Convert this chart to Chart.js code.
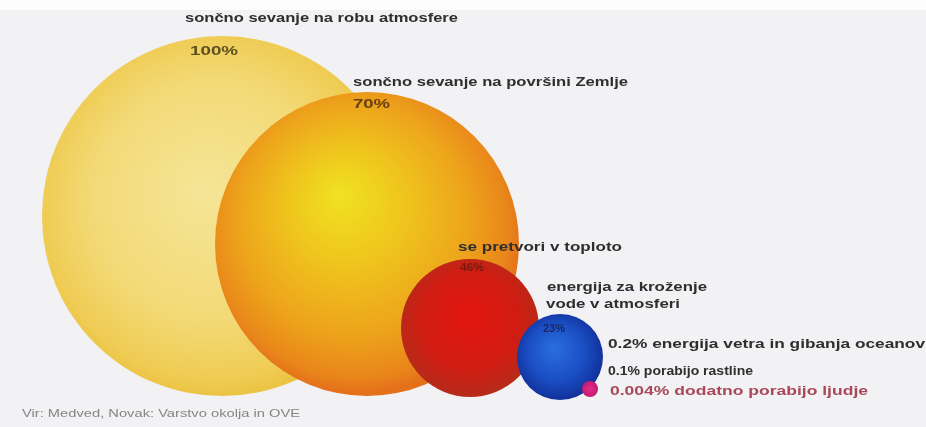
<!DOCTYPE html>
<html>
<head>
<meta charset="utf-8">
<script src="https://cdn.jsdelivr.net/npm/chart.js@4.4.1/dist/chart.umd.min.js"></script>
<style>
  html, body { margin: 0; padding: 0; background: #f2f1f3; }
  #wrap { position: relative; width: 926px; height: 427px; background: #f2f1f3; }
  #topband { position: absolute; left: 0; top: 0; width: 926px; height: 10px; background: #fdfdfd; }
  canvas { position: absolute; left: 0; top: 0; }
</style>
</head>
<body>
<div id="wrap">
  <div id="topband"></div>
  <canvas id="c" width="926" height="427"></canvas>
</div>
<script>
// Share of incoming solar energy at each stage (percent)
const stages = [
  'sončno sevanje na robu atmosfere',
  'sončno sevanje na površini Zemlje',
  'se pretvori v toploto',
  'energija za kroženje vode v atmosferi',
  'energija vetra in gibanja oceanov',
  'porabijo rastline',
  'dodatno porabijo ljudje'
];
const shares = [100, 70, 46, 23, 0.2, 0.1, 0.004];
const shareLabels = ['100%', '70%', '46%', '23%', '0.2%', '0.1%', '0.004%'];
const sourceNote = 'Vir: Medved, Novak: Varstvo okolja in OVE';

// Which stages get a drawn sphere
const bubbleStages = [0, 1, 2, 3, 6];

// Sphere placement on the layout grid (1 unit = 1 px of the drawing area)
const sphereLayout = [
  { cx: 222, cy: 216, r: 180, hx: -0.10, hy: -0.15, stops: [[0, '#f5e596'], [0.6, '#f3da78'], [0.9, '#efcb52'], [1, '#eac03c']] },
  { cx: 367, cy: 244, r: 152, hx: -0.18, hy: -0.33, stops: [[0, '#f0e221'], [0.35, '#efc51d'], [0.7, '#eda41b'], [0.92, '#e9861a'], [1, '#e4701a']] },
  { cx: 470, cy: 328, r: 69,  hx: 0.0,  hy: -0.2,  stops: [[0, '#e21610'], [0.65, '#d01c12'], [1, '#b42c1a']] },
  { cx: 560, cy: 357, r: 43,  hx: -0.15, hy: -0.2, stops: [[0, '#2a6ee0'], [0.6, '#1b4fc4'], [1, '#10309a']] },
  { cx: 590, cy: 389, r: 8,   hx: 0,    hy: 0,     stops: [[0, '#e2308a'], [1, '#c01870']] }
];

const points = bubbleStages.map((s, i) => ({
  x: sphereLayout[i].cx,
  y: sphereLayout[i].cy,
  r: sphereLayout[i].r,
  share: shares[s]
}));

function sphereFill(ctx) {
  const i = ctx.dataIndex;
  if (ctx.type !== 'data' || i === undefined || !sphereLayout[i]) return '#cccccc';
  const L = sphereLayout[i];
  const chart = ctx.chart;
  const sx = chart.scales && chart.scales.x, sy = chart.scales && chart.scales.y;
  const px = sx ? sx.getPixelForValue(L.cx) : NaN;
  const py = sy ? sy.getPixelForValue(L.cy) : NaN;
  if (!isFinite(px) || !isFinite(py)) return L.stops[1][1];
  const r = L.r;
  // light source sits up and to the left of each sphere
  const g = chart.ctx.createRadialGradient(px + L.hx * r, py + L.hy * r, 0, px + L.hx * r * 0.3, py + L.hy * r * 0.3, r * 1.08);
  L.stops.forEach(([o, c]) => g.addColorStop(o, c));
  return g;
}

// Text annotations drawn on top of the spheres
const textItems = [
  { t: stages[0], x: 185, y: 18, w: 273, color: '#2e2e2e', size: 13, bold: true },
  { t: shareLabels[0], x: 190, y: 52, w: 48, color: '#5e5020', size: 12, bold: true },
  { t: stages[1], x: 353, y: 82, w: 275, color: '#2e2e2e', size: 13, bold: true },
  { t: shareLabels[1], x: 353, y: 105, w: 37, color: '#6a4010', size: 12, bold: true },
  { t: stages[2], x: 458, y: 247, w: 164, color: '#2e2e2e', size: 13, bold: true },
  { t: shareLabels[2], x: 460, y: 268, w: 24, color: '#7c1a12', size: 10, bold: true },
  { t: 'energija za kroženje', x: 547, y: 287, w: 160, color: '#2e2e2e', size: 13, bold: true },
  { t: 'vode v atmosferi', x: 546, y: 304, w: 134, color: '#2e2e2e', size: 13, bold: true },
  { t: shareLabels[3], x: 543, y: 329, w: 22, color: '#142868', size: 10, bold: true },
  { t: shareLabels[4] + ' ' + stages[4], x: 608, y: 344, w: 317, color: '#2e2e2e', size: 13, bold: true },
  { t: shareLabels[5] + ' ' + stages[5], x: 608, y: 371, w: 145, color: '#2e2e2e', size: 13, bold: true },
  { t: shareLabels[6] + ' ' + stages[6], x: 610, y: 391, w: 258, color: '#a8485a', size: 13, bold: true },
  { t: sourceNote, x: 22, y: 414, w: 278, color: '#858585', size: 11, bold: false }
];

const annotationPlugin = {
  id: 'annotations',
  afterDatasetsDraw(chart) {
    const c = chart.ctx;
    c.save();
    c.textBaseline = 'middle';
    c.textAlign = 'left';
    textItems.forEach(it => {
      c.font = (it.bold ? 'bold ' : '') + it.size + 'px "Liberation Sans", Arial, sans-serif';
      const m = c.measureText(it.t).width;
      c.save();
      c.translate(it.x, it.y);
      c.scale(it.w / m, 1);
      c.fillStyle = it.color;
      c.fillText(it.t, 0, 0);
      c.restore();
    });
    c.restore();
  }
};

const chart = new Chart(document.getElementById('c'), {
  type: 'bubble',
  data: {
    datasets: [{
      label: stages[0],
      data: points,
      backgroundColor: sphereFill,
      borderWidth: 0,
      hoverBorderWidth: 0
    }]
  },
  options: {
    responsive: false,
    animation: false,
    events: [],
    layout: { padding: 0, autoPadding: false },
    plugins: { legend: { display: false }, tooltip: { enabled: false } },
    scales: {
      x: { type: 'linear', min: 0, max: 926, display: false },
      y: { type: 'linear', min: 0, max: 427, reverse: true, display: false }
    },
    clip: false
  },
  plugins: [annotationPlugin]
});
chart.update();
</script>
</body>
</html>
